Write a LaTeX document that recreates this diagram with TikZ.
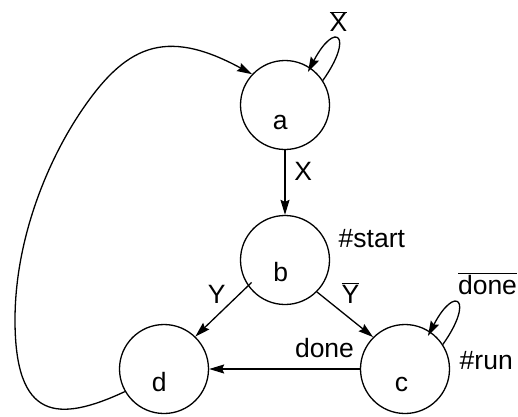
\documentclass[tikz,border=0pt]{standalone}
\usepackage{fontspec}
\setmainfont{Liberation Sans}
\usetikzlibrary{arrows.meta}
\newcommand{\olin}[1]{$\overline{\mbox{#1}}$}
\begin{document}
\begin{tikzpicture}[x=1pt,y=-1pt,
  state/.style={draw, circle, minimum size=89pt, inner sep=0pt, line width=1.3pt},
  lbl/.style={inner sep=0pt, font=\fontsize{26.5}{30}\selectfont, anchor=base},
  edge/.style={line width=1.3pt, -{Stealth[length=15pt,width=9pt,inset=2pt]}},
]
\useasboundingbox (0,0) rectangle (518,416);
\node[state] (a) at (285,105) {};
\node[state] (b) at (285,260) {};
\node[state] (d) at (164,369) {};
\node[state] (c) at (405,369) {};
% state texts
\node[lbl] (ta) at (280.3,129.5) {a};
\node[lbl] (tb) at (280.8,281.5) {b};
\node[lbl] (td) at (159.3,391.7) {d};
\node[lbl] (tc) at (401.5,391) {c};
% edge labels
\node[lbl] (lx) at (303.3,180.7) {X};
\node[lbl] (ly) at (216.7,303.3) {Y};
\node[lbl] (lyb) at (350.5,303.3) {\olin{Y}};
\node[lbl] (lxb) at (338.5,31.7) {\olin{X}};
\node[lbl] (ldoneb) at (487.5,294) {\olin{done}};
\node[lbl] (ldone) at (324.5,357.7) {done};
\node[lbl, anchor=base west] (lstart) at (338.5,247.7) {\#start};
\node[lbl, anchor=base west] (lrun) at (459.5,369) {\#run};
% edges
\draw[edge] (a) -- (b);
\draw[edge, shorten <=-5pt] (b.215) -- (d.46);
\draw[edge] (b.-45) -- (c.135);
\draw[edge] (c) -- (d);
\draw[edge, shorten >=-5pt] (a.33) .. controls (355,35) and (335,20) .. (a.56);
\draw[edge, shorten >=-5pt] (c.33) .. controls (475,299) and (455,284) .. (c.56);
\draw[edge] (d.210) .. controls (57.4,423) and (15,420) .. (15,320)
  .. controls (15,240) and (46.7,163) .. (80,113)
  .. controls (124.4,46.4) and (164.1,26.3) .. (a.137);
\end{tikzpicture}
\end{document}
